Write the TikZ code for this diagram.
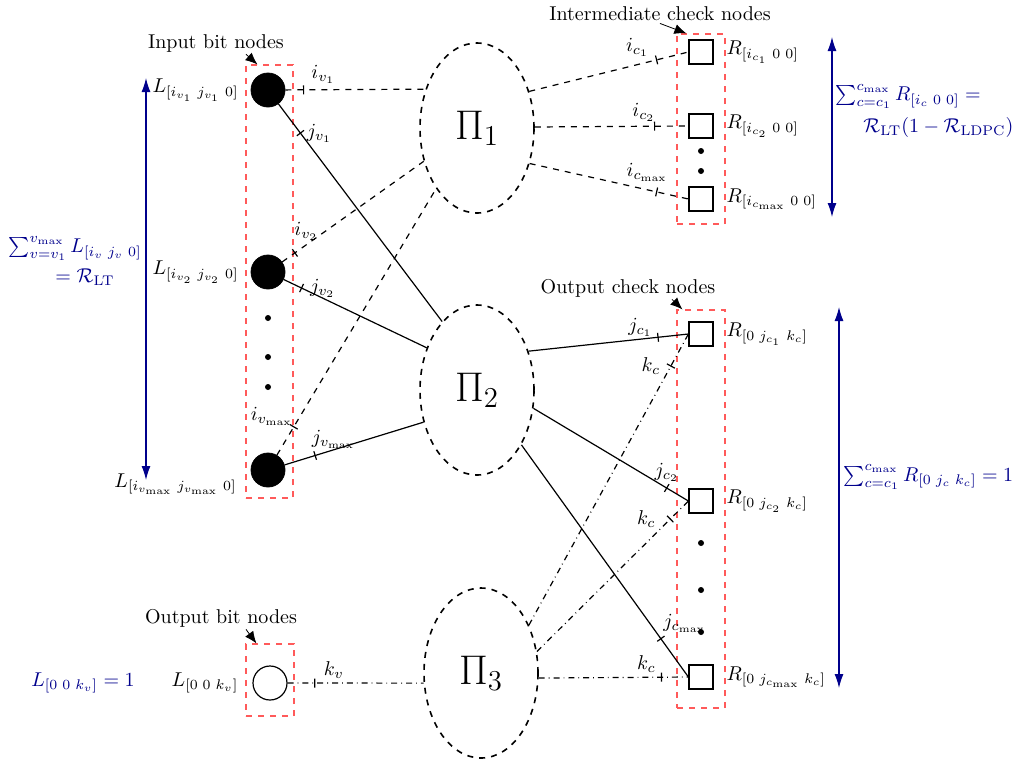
\documentclass[tikz,border=0pt]{standalone}
\usepackage{amsmath,amssymb}
\usepackage{tikz}
\usetikzlibrary{arrows.meta,positioning,shapes.geometric}
\definecolor{navyblue}{RGB}{0,0,140}
\definecolor{boxred}{RGB}{255,90,90}
\newcommand{\bsep}{\hspace{2.5pt}}
\tikzset{
  bitnode/.style={circle, draw, fill=black, minimum size=17pt, inner sep=0pt},
  outbit/.style={circle, draw, semithick, fill=white, minimum size=17pt, inner sep=0pt},
  checknode/.style={rectangle, draw, semithick, fill=white, minimum size=12pt, inner sep=0pt},
  dotnode/.style={circle, fill=black, minimum size=3pt, inner sep=0pt},
  perm/.style={ellipse, draw, thick, dashed, minimum width=57pt, minimum height=85pt,
    inner sep=0pt, font=\huge},
  grpbox/.style={rectangle, draw=boxred, dashed, semithick, inner sep=0pt},
  hdlabel/.style={inner sep=1pt},
  hdarrow/.style={-{Latex[length=6pt,width=5pt]}},
  ratearrow/.style={{Latex[length=7pt,width=4.5pt]}-{Latex[length=7pt,width=4.5pt]}, navyblue, semithick},
  ratelabel/.style={text=navyblue, inner sep=1pt},
  edgetick/.style={sloped, draw, solid, inner sep=0pt, outer sep=0pt,
    minimum width=0pt, minimum height=4.5pt},
  elab/.style={inner sep=1pt},
  iedge/.style={dashed, semithick},
  jedge/.style={semithick},
  kedge/.style={dashdotted, semithick},
}

\begin{document}
\begin{tikzpicture}[x=0.5pt, y=-0.5pt]
  \useasboundingbox (0,0) rectangle (1015,761);

  % Group boxes
  \node[grpbox, minimum width=23.5pt, minimum height=216.5pt] (inbox) at (269.5,281.5) {};
  \node[grpbox, minimum width=24pt, minimum height=36pt] (obbox) at (270,680) {};
  \node[grpbox, minimum width=24pt, minimum height=95pt] (icbox) at (701,129) {};
  \node[grpbox, minimum width=24pt, minimum height=199pt] (ocbox) at (701,509) {};

  % Headers
  \node[hdlabel] (inlab) at (216,43) {Input bit nodes};
  \node[hdlabel] (oblab) at (221,618) {Output bit nodes};
  \node[hdlabel] (iclab) at (660,14) {Intermediate check nodes};
  \node[hdlabel] (oclab) at (628,288) {Output check nodes};
  \draw[hdarrow] ([xshift=15pt]inlab.south) -- ([xshift=6pt]inbox.north west);
  \draw[hdarrow] ([xshift=12.5pt]oblab.south) -- ([xshift=5.5pt]obbox.north west);
  \draw[hdarrow] (iclab.south) -- ([xshift=5pt]icbox.north west);
  \draw[hdarrow] ([xshift=22pt]oclab.south) -- ([xshift=3pt]ocbox.north west);

  % Input bit nodes
  \node[bitnode] (b1) at (268,90) {};
  \node[bitnode] (b2) at (268,272) {};
  \node[dotnode] (bd1) at (268,318) {};
  \node[dotnode] (bd2) at (268,357) {};
  \node[dotnode] (bd3) at (268,387) {};
  \node[bitnode] (b3) at (268,470) {};
  \node[outbit] (ob) at (270,683) {};

  \node[left=2.5pt of b1] (lb1) {$L_{[i_{v_1}\bsep j_{v_1}\bsep 0]}$};
  \node[left=2.5pt of b2] (lb2) {$L_{[i_{v_2}\bsep j_{v_2}\bsep 0]}$};
  \node[left=6pt of b3.south west, yshift=-1pt] (lb3) {$L_{[i_{v_{\max}}\bsep j_{v_{\max}}\bsep 0]}$};
  \node[left=3.5pt of ob] (lob) {$L_{[0\bsep 0\bsep k_v]}$};

  % Permutations
  \node[perm] (p1) at (477,128) {$\Pi_1$};
  \node[perm] (p2) at (477,390) {$\Pi_2$};
  \node[perm] (p3) at (481,673) {$\Pi_3$};

  % Check nodes
  \node[checknode] (c1) at (701,52) {};
  \node[checknode] (c2) at (701,126) {};
  \node[dotnode] (cd1) at (701,151) {};
  \node[dotnode] (cd2) at (701,171) {};
  \node[checknode] (c3) at (701,199) {};
  \node[checknode] (o1) at (701,334) {};
  \node[checknode] (o2) at (701,501) {};
  \node[dotnode] (od1) at (701,543) {};
  \node[dotnode] (od2) at (701,590) {};
  \node[dotnode] (od3) at (701,632) {};
  \node[checknode] (o3) at (701,677) {};

  \node[right=3pt of c1] (lc1) {$R_{[i_{c_1}\bsep 0\bsep 0]}$};
  \node[right=3pt of c2] (lc2) {$R_{[i_{c_2}\bsep 0\bsep 0]}$};
  \node[right=3pt of c3] (lc3) {$R_{[i_{c_{\max}}\bsep 0\bsep 0]}$};
  \node[right=3pt of o1] (lo1) {$R_{[0\bsep j_{c_1}\bsep k_c]}$};
  \node[right=3pt of o2] (lo2) {$R_{[0\bsep j_{c_2}\bsep k_c]}$};
  \node[right=3pt of o3] (lo3) {$R_{[0\bsep j_{c_{\max}}\bsep k_c]}$};

  % Bit nodes to permutations
  \draw[iedge] (b1) -- node[edgetick, pos=0.13] (t1) {}
    node[elab, pos=0.27, above=2pt] (e1) {$i_{v_1}$} (p1.143);
  \draw[jedge] (b1) -- node[edgetick, pos=0.134] (t2) {}
    node[elab, pos=0.134, right=2pt] (e2) {$j_{v_1}$} (p2.117);
  \draw[iedge] (b2) -- node[edgetick, pos=0.09] (t3) {}
    node[elab, pos=0.17, above=1pt] (e3) {$i_{v_2}$} (p1.212);
  \draw[jedge] (b2) -- node[edgetick, pos=0.125] (t4) {}
    node[elab, pos=0.125, right=3pt] (e4) {$j_{v_2}$} (p2.140);
  \draw[iedge] (b3) -- node[edgetick, pos=0.106] (t5) {}
    node[elab, pos=0.106, above left=-1pt] (e5) {$i_{v_{\max}}$} (p1.236);
  \draw[jedge] (b3) -- node[edgetick, pos=0.22] (t6) {}
    node[elab, pos=0.22, above right=2pt and -3pt] (e6) {$j_{v_{\max}}$} (p2.211);
  \draw[kedge] (ob) -- node[edgetick, pos=0.2] (t7) {}
    node[elab, pos=0.34, above=1pt] (e7) {$k_v$} (p3.190);

  % Permutations to check nodes
  \draw[iedge] (p1.35) -- node[edgetick, pos=0.8] (t8) {}
    node[elab, pos=0.68, above=3pt] (e8) {$i_{c_1}$} (c1.west);
  \draw[iedge] (p1.1) -- node[edgetick, pos=0.78] (t9) {}
    node[elab, pos=0.71, above=1pt] (e9) {$i_{c_2}$} (c2.west);
  \draw[iedge] (p1.326) -- node[edgetick, pos=0.8] (t10) {}
    node[elab, pos=0.74, above=3pt] (e10) {$i_{c_{\max}}$} (c3.west);
  \draw[jedge] (p2.37) -- node[edgetick, pos=0.81] (t11) {}
    node[elab, pos=0.7, above=0pt] (e11) {$j_{c_1}$} (o1.west);
  \draw[kedge] (p3.45) -- node[edgetick, pos=0.89] (t12) {}
    node[elab, pos=0.89, left=4pt] (e12) {$k_c$} (o1.west);
  \draw[jedge] (p2.342) -- node[edgetick, pos=0.86] (t13) {}
    node[elab, pos=0.86, above=2pt] (e13) {$j_{c_2}$} (o2.west);
  \draw[kedge] (p3.21) -- node[edgetick, pos=0.88] (t14) {}
    node[elab, pos=0.88, left=6pt] (e14) {$k_c$} (o2.west);
  \draw[jedge] (p2.309) -- node[edgetick, pos=0.835] (t15) {}
    node[elab, pos=0.835, above right=2pt and 0pt] (e15) {$j_{c_{\max}}$} (o3.west);
  \draw[kedge] (p3.355) -- node[edgetick, pos=0.82] (t16) {}
    node[elab, pos=0.72, above=1pt] (e16) {$k_c$} (o3.west);

  % Rates
  \coordinate (ltop) at (146,78);
  \coordinate (lbot) at (146,480);
  \coordinate (ictop) at (832,37);
  \coordinate (icbot) at (832,217);
  \coordinate (octop) at (839,307);
  \coordinate (ocbot) at (839,688);
  \draw[ratearrow] (ltop) -- (lbot);
  \draw[ratearrow] (ictop) -- (icbot);
  \draw[ratearrow] (octop) -- (ocbot);
  \node[ratelabel, align=center] (inrate) at (75,261)
    {$\sum_{v=v_1}^{v_{\max}} L_{[i_v\bsep j_v\bsep 0]}$\\[3pt] \quad$=\mathcal{R}_{\mathrm{LT}}$};
  \node[ratelabel, align=left, anchor=west] (icrate) at (833,111)
    {$\sum_{c=c_1}^{c_{\max}} R_{[i_c\bsep 0\bsep 0]} =$\\[4pt]
     \hspace*{14pt}$\mathcal{R}_{\mathrm{LT}}(1-\mathcal{R}_{\mathrm{LDPC}})$};
  \node[ratelabel, anchor=west] (ocrate) at (841,477)
    {$\sum_{c=c_1}^{c_{\max}} R_{[0\bsep j_c\bsep k_c]} = 1$};
  \node[ratelabel] (obrate) at (83,683) {$L_{[0\bsep 0\bsep k_v]} = 1$};
\end{tikzpicture}
\end{document}
